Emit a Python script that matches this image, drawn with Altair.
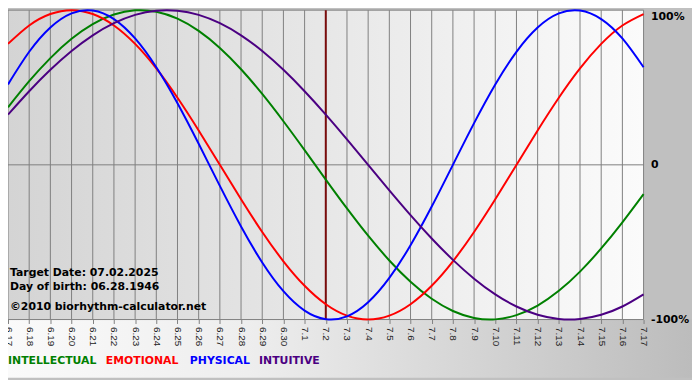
import altair as alt
import pandas as pd

# ---------------- data ----------------
days = ["6.17", "6.18", "6.19", "6.20", "6.21", "6.22", "6.23", "6.24", "6.25", "6.26",
        "6.27", "6.28", "6.29", "6.30", "7.1", "7.2", "7.3", "7.4", "7.5", "7.6",
        "7.7", "7.8", "7.9", "7.10", "7.11", "7.12", "7.13", "7.14", "7.15", "7.16", "7.17"]

physical = [0.5196, 0.7308, 0.8879, 0.9791, 0.9977, 0.9423, 0.8170, 0.6311, 0.3984, 0.1362,
            -0.1362, -0.3984, -0.6311, -0.8170, -0.9423, -0.9977, -0.9791, -0.8879, -0.7308, -0.5196,
            -0.2698, 0.0, 0.2698, 0.5196, 0.7308, 0.8879, 0.9791, 0.9977, 0.9423, 0.8170, 0.6311]

emotional = [0.7818, 0.9010, 0.9749, 1.0, 0.9749, 0.9010, 0.7818, 0.6235, 0.4339, 0.2225,
             0.0, -0.2225, -0.4339, -0.6235, -0.7818, -0.9010, -0.9749, -1.0, -0.9749, -0.9010,
             -0.7818, -0.6235, -0.4339, -0.2225, 0.0, 0.2225, 0.4339, 0.6235, 0.7818, 0.9010, 0.9749]

intellectual = [0.3717, 0.5406, 0.6901, 0.8146, 0.9096, 0.9718, 0.9989, 0.9898, 0.9450, 0.8660,
                0.7557, 0.6182, 0.4582, 0.2817, 0.0951, -0.0951, -0.2817, -0.4582, -0.6182, -0.7557,
                -0.8660, -0.9450, -0.9898, -0.9989, -0.9718, -0.9096, -0.8146, -0.6901, -0.5406, -0.3717, -0.1893]

intuitive = [0.3247, 0.4759, 0.6142, 0.7357, 0.8372, 0.9158, 0.9694, 0.9966, 0.9966, 0.9694,
             0.9158, 0.8372, 0.7357, 0.6142, 0.4759, 0.3247, 0.1646, 0.0, -0.1646, -0.3247,
             -0.4759, -0.6142, -0.7357, -0.8372, -0.9158, -0.9694, -0.9966, -0.9966, -0.9694, -0.9158, -0.8372]

series_names = ["INTELLECTUAL", "EMOTIONAL", "PHYSICAL", "INTUITIVE"]
series_colors = ["#008000", "#ff0000", "#0000ff", "#4b0082"]
target_day = "7.2"
y_ticks = [1, 0, -1]
y_tick_labels = ["100%", "0", "-100%"]
annotations = ["Target Date: 07.02.2025", "Day of birth: 06.28.1946", "\u00a92010 biorhythm-calculator.net"]

# ---------------- layout ----------------
W, H = 643, 313
TOTAL_W, TOTAL_H = 692, 372
annot_y = [269, 283, 303]
legend_x = [0, 99, 184, 254]
legend_y = 358

rows = []
for name, vals in zip(series_names, [intellectual, emotional, physical, intuitive]):
    for d, v in zip(days, vals):
        rows.append({"day": d, "value": v, "series": name})
df = pd.DataFrame(rows)

xscale = alt.Scale(type="point", padding=0, domain=days)
yscale = alt.Scale(domain=[-1, 1], nice=False, zero=False)

label_expr = " : ".join(
    [f"datum.value == {v} ? '{t}'" for v, t in zip(y_ticks[:-1], y_tick_labels[:-1])]
) + f" : '{y_tick_labels[-1]}'"

xaxis = alt.Axis(orient="bottom", labelAngle=90, labelAlign="left", labelBaseline="middle",
                 labelPadding=3, tickSize=4, tickColor="#808080", domain=False, grid=False,
                 title=None, labelFont="Liberation Sans", labelFontSize=10, labelColor="#222222",
                 labelOverlap=False, zindex=1)
yaxis = alt.Axis(orient="right", values=y_ticks, labelExpr=label_expr, ticks=False,
                 domain=False, grid=False, title=None, labelPadding=7,
                 labelBaseline={"condition": {"test": "datum.value == 1", "value": "top"},
                                "value": "middle"},
                 labelFont="DejaVu Sans", labelFontWeight="bold", labelFontSize=11,
                 labelColor="#000000", zindex=1)

one = pd.DataFrame({"a": [0]})

plot_bg = alt.Chart(one).mark_rect(
    color=alt.LinearGradient(
        gradient="linear",
        stops=[alt.GradientStop(color="#d4d4d4", offset=0),
               alt.GradientStop(color="#fbfbfb", offset=1)],
        x1=0, x2=1, y1=0, y2=0)
).encode(x=alt.value(0), x2=alt.value(W), y=alt.value(0), y2=alt.value(H))

bottom_bg = alt.Chart(one).mark_rect(
    color=alt.LinearGradient(
        gradient="linear",
        stops=[alt.GradientStop(color="#fafafa", offset=0),
               alt.GradientStop(color="#eeeeee", offset=0.35),
               alt.GradientStop(color="#bcbcbc", offset=1)],
        x1=0, x2=1, y1=0, y2=0)
).encode(x=alt.value(0), x2=alt.value(TOTAL_W), y=alt.value(H), y2=alt.value(TOTAL_H))

vgrid = alt.Chart(pd.DataFrame({"day": days})).mark_rule(color="#808080", strokeWidth=1).encode(
    x=alt.X("day:O", scale=xscale, sort=days, axis=xaxis))

hgrid = alt.Chart(pd.DataFrame({"v": y_ticks})).mark_rule(color="#808080", strokeWidth=1).encode(
    y=alt.Y("v:Q", scale=yscale, axis=yaxis))

target = alt.Chart(pd.DataFrame({"day": [target_day]})).mark_rule(color="#7a0c0c", strokeWidth=2).encode(
    x=alt.X("day:O", scale=xscale, sort=days))

lines = alt.Chart(df).mark_line(strokeWidth=2, interpolate="natural").encode(
    x=alt.X("day:O", scale=xscale, sort=days),
    y=alt.Y("value:Q", scale=yscale),
    color=alt.Color("series:N", scale=alt.Scale(domain=series_names, range=series_colors), legend=None),
    detail="series:N",
)

layers = [plot_bg, bottom_bg, vgrid, hgrid, target, lines]

for t, yy in zip(annotations, annot_y):
    layers.append(
        alt.Chart(pd.DataFrame({"t": [t]})).mark_text(
            align="left", baseline="alphabetic", font="DejaVu Sans", fontWeight="bold",
            fontSize=11, color="#000000"
        ).encode(text="t:N", x=alt.value(2), y=alt.value(yy))
    )

for name, col, xx in zip(series_names, series_colors, legend_x):
    layers.append(
        alt.Chart(pd.DataFrame({"t": [name]})).mark_text(
            align="left", baseline="alphabetic", font="DejaVu Sans", fontWeight="bold",
            fontSize=11, color=col
        ).encode(text="t:N", x=alt.value(xx), y=alt.value(legend_y))
    )

chart = alt.layer(*layers).properties(
    width=W, height=H,
    autosize=alt.AutoSizeParams(type="none"),
    padding={"left": 0, "top": 0, "right": TOTAL_W - W, "bottom": TOTAL_H - H},
).configure(background="#c0c0c0").configure_view(stroke=None)

chart.save("out.html", embed_options={"renderer": "svg", "actions": False})
